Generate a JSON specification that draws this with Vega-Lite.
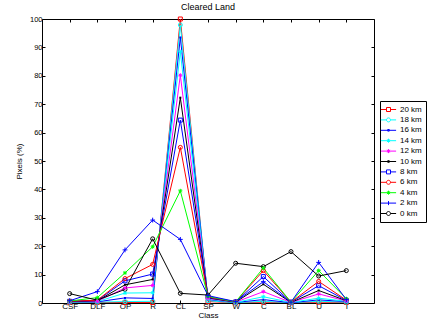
{
  "$schema": "https://vega.github.io/schema/vega-lite/v6.json",
  "autosize": {"type": "none"},
  "width": 332,
  "height": 284,
  "padding": {"left": 42, "top": 19, "right": 57, "bottom": 22},
  "background": "white",
  "config": {
    "font": "Liberation Sans",
    "view": {"stroke": null},
    "axis": {"domainColor": "black", "tickColor": "black", "labelColor": "black", "titleColor": "black", "grid": false, "labelFont": "Liberation Sans", "titleFont": "Liberation Sans", "titleFontWeight": "normal"},
    "title": {"font": "Liberation Sans", "fontWeight": "normal", "fontSize": 9, "color": "black"}
  },
  "title": {"text": "Cleared Land", "offset": 3},
  "params": [
    {"name": "sq", "value": "M-1.9,0H-0.5M0.5,0H1.9M-0.5,-0.5H0.5V0.5H-0.5Z"},
    {"name": "ci", "value": "M-1.9,0H-0.5M0.5,0H1.9M0.5,0A0.5,0.5,0,1,1,-0.5,0A0.5,0.5,0,1,1,0.5,0"},
    {"name": "dt", "value": "M-1.9,0H1.9M-0.2,-0.2H0.2V0.2H-0.2Z"},
    {"name": "pl", "value": "M-1.9,0H1.9M0,-0.5V0.5"},
    {"name": "as", "value": "M-1.9,0H1.9M0,-0.5V0.5M-0.4,-0.3L0.4,0.3M-0.4,0.3L0.4,-0.3"}
  ],
  "data": {"values": [
    {"s":"20 km","c":"CSF","v":0.2},{"s":"20 km","c":"DLF","v":0.2},{"s":"20 km","c":"OP","v":0.2},{"s":"20 km","c":"R","v":0.2},{"s":"20 km","c":"CL","v":100},{"s":"20 km","c":"SP","v":0.5},{"s":"20 km","c":"W","v":0.1},{"s":"20 km","c":"C","v":0.3},{"s":"20 km","c":"BL","v":0.1},{"s":"20 km","c":"U","v":0.3},{"s":"20 km","c":"I","v":0.2},
    {"s":"18 km","c":"CSF","v":0.3},{"s":"18 km","c":"DLF","v":0.3},{"s":"18 km","c":"OP","v":0.5},{"s":"18 km","c":"R","v":0.6},{"s":"18 km","c":"CL","v":97.9},{"s":"18 km","c":"SP","v":0.8},{"s":"18 km","c":"W","v":0.1},{"s":"18 km","c":"C","v":0.6},{"s":"18 km","c":"BL","v":0.1},{"s":"18 km","c":"U","v":0.6},{"s":"18 km","c":"I","v":0.3},
    {"s":"16 km","c":"CSF","v":0.4},{"s":"16 km","c":"DLF","v":0.4},{"s":"16 km","c":"OP","v":1.8},{"s":"16 km","c":"R","v":1.6},{"s":"16 km","c":"CL","v":93.5},{"s":"16 km","c":"SP","v":1.2},{"s":"16 km","c":"W","v":0.2},{"s":"16 km","c":"C","v":1.2},{"s":"16 km","c":"BL","v":0.1},{"s":"16 km","c":"U","v":1.1},{"s":"16 km","c":"I","v":0.5},
    {"s":"14 km","c":"CSF","v":0.4},{"s":"14 km","c":"DLF","v":0.5},{"s":"14 km","c":"OP","v":3.5},{"s":"14 km","c":"R","v":3.6},{"s":"14 km","c":"CL","v":88.5},{"s":"14 km","c":"SP","v":1.4},{"s":"14 km","c":"W","v":0.2},{"s":"14 km","c":"C","v":2.2},{"s":"14 km","c":"BL","v":0.2},{"s":"14 km","c":"U","v":1.7},{"s":"14 km","c":"I","v":0.6},
    {"s":"12 km","c":"CSF","v":0.5},{"s":"12 km","c":"DLF","v":0.6},{"s":"12 km","c":"OP","v":5.3},{"s":"12 km","c":"R","v":6.2},{"s":"12 km","c":"CL","v":80.2},{"s":"12 km","c":"SP","v":1.6},{"s":"12 km","c":"W","v":0.3},{"s":"12 km","c":"C","v":4.0},{"s":"12 km","c":"BL","v":0.2},{"s":"12 km","c":"U","v":3.2},{"s":"12 km","c":"I","v":0.7},
    {"s":"10 km","c":"CSF","v":0.5},{"s":"10 km","c":"DLF","v":0.8},{"s":"10 km","c":"OP","v":6.4},{"s":"10 km","c":"R","v":8.3},{"s":"10 km","c":"CL","v":72.3},{"s":"10 km","c":"SP","v":1.8},{"s":"10 km","c":"W","v":0.3},{"s":"10 km","c":"C","v":6.6},{"s":"10 km","c":"BL","v":0.2},{"s":"10 km","c":"U","v":4.4},{"s":"10 km","c":"I","v":0.8},
    {"s":"8 km","c":"CSF","v":0.6},{"s":"8 km","c":"DLF","v":0.9},{"s":"8 km","c":"OP","v":7.8},{"s":"8 km","c":"R","v":10.2},{"s":"8 km","c":"CL","v":64.4},{"s":"8 km","c":"SP","v":2.0},{"s":"8 km","c":"W","v":0.4},{"s":"8 km","c":"C","v":9.3},{"s":"8 km","c":"BL","v":0.3},{"s":"8 km","c":"U","v":6.1},{"s":"8 km","c":"I","v":0.9},
    {"s":"6 km","c":"CSF","v":0.6},{"s":"6 km","c":"DLF","v":1.0},{"s":"6 km","c":"OP","v":8.6},{"s":"6 km","c":"R","v":13.6},{"s":"6 km","c":"CL","v":54.8},{"s":"6 km","c":"SP","v":2.1},{"s":"6 km","c":"W","v":0.4},{"s":"6 km","c":"C","v":11.4},{"s":"6 km","c":"BL","v":0.3},{"s":"6 km","c":"U","v":7.6},{"s":"6 km","c":"I","v":1.0},
    {"s":"4 km","c":"CSF","v":0.7},{"s":"4 km","c":"DLF","v":1.9},{"s":"4 km","c":"OP","v":10.6},{"s":"4 km","c":"R","v":19.8},{"s":"4 km","c":"CL","v":39.5},{"s":"4 km","c":"SP","v":2.3},{"s":"4 km","c":"W","v":0.4},{"s":"4 km","c":"C","v":12.3},{"s":"4 km","c":"BL","v":0.3},{"s":"4 km","c":"U","v":11.4},{"s":"4 km","c":"I","v":1.5},
    {"s":"2 km","c":"CSF","v":0.8},{"s":"2 km","c":"DLF","v":4.0},{"s":"2 km","c":"OP","v":18.7},{"s":"2 km","c":"R","v":29.2},{"s":"2 km","c":"CL","v":22.4},{"s":"2 km","c":"SP","v":2.6},{"s":"2 km","c":"W","v":0.5},{"s":"2 km","c":"C","v":7.5},{"s":"2 km","c":"BL","v":0.3},{"s":"2 km","c":"U","v":14.3},{"s":"2 km","c":"I","v":1.2},
    {"s":"0 km","c":"CSF","v":3.3},{"s":"0 km","c":"DLF","v":1.0},{"s":"0 km","c":"OP","v":4.8},{"s":"0 km","c":"R","v":22.6},{"s":"0 km","c":"CL","v":3.4},{"s":"0 km","c":"SP","v":2.8},{"s":"0 km","c":"W","v":14.0},{"s":"0 km","c":"C","v":12.8},{"s":"0 km","c":"BL","v":18.1},{"s":"0 km","c":"U","v":9.5},{"s":"0 km","c":"I","v":11.4}
  ]},
  "encoding": {
    "x": {"field": "c", "type": "nominal", "sort": ["CSF","DLF","OP","R","CL","SP","W","C","BL","U","I"], "axis": null},
    "y": {"field": "v", "type": "quantitative", "axis": null}
  },
  "resolve": {"axis": {"x": "independent", "y": "independent"}},
  "layer": [
    {
      "mark": {"type": "line", "strokeWidth": 1},
      "encoding": {
        "x": {"field": "c", "type": "nominal", "sort": ["CSF","DLF","OP","R","CL","SP","W","C","BL","U","I"],
              "scale": {"type": "point", "padding": 1},
              "axis": {"title": "Class", "labelAngle": 0, "labelFontSize": 8, "titleFontSize": 8, "tickSize": -3, "labelPadding": 2, "titlePadding": 1, "domainWidth": 1}},
        "y": {"field": "v", "type": "quantitative", "scale": {"domain": [0, 100], "nice": false},
              "axis": {"title": "Pixels (%)", "values": [0,10,20,30,40,50,60,70,80,90,100], "labelFontSize": 7.5, "titleFontSize": 8, "tickSize": -3, "labelPadding": 3, "titlePadding": 6, "domainWidth": 1}},
        "color": {"field": "s", "type": "nominal",
                  "scale": {"domain": ["20 km","18 km","16 km","14 km","12 km","10 km","8 km","6 km","4 km","2 km","0 km"],
                            "range": ["#ff0000","#00ffff","#0000ff","#00ffff","#ff00ff","#000000","#0000ff","#ff0000","#00ff00","#0000ff","#000000"]},
                  "legend": {"title": null, "orient": "none", "legendX": 338, "legendY": 82, "padding": 4,
                             "strokeColor": "black", "fillColor": "white", "labelFontSize": 8, "labelColor": "black",
                             "symbolSize": 64, "rowPadding": 1.4, "labelOffset": 7, "symbolStrokeWidth": 1,
                             "symbolFillColor": "transparent",
                             "encode": {"symbols": {"update": {
                               "fillOpacity": {"value": 0},
                               "shape": {"signal": "(datum.value == '20 km' || datum.value == '8 km') ? sq : (datum.value == '18 km' || datum.value == '6 km' || datum.value == '0 km') ? ci : (datum.value == '16 km' || datum.value == '10 km') ? dt : datum.value == '2 km' ? pl : as"}
                             }}}}}
      }
    },
    {
      "transform": [{"filter": {"field": "s", "oneOf": ["20 km", "8 km"]}}],
      "mark": {"type": "point", "shape": "square", "filled": false, "size": 16, "strokeWidth": 1, "opacity": 1},
      "encoding": {"color": {"field": "s", "type": "nominal", "legend": null}}
    },
    {
      "transform": [{"filter": {"field": "s", "oneOf": ["18 km", "6 km", "0 km"]}}],
      "mark": {"type": "point", "shape": "circle", "filled": false, "size": 16, "strokeWidth": 1, "opacity": 1},
      "encoding": {"color": {"field": "s", "type": "nominal", "legend": null}}
    },
    {
      "transform": [{"filter": {"field": "s", "oneOf": ["16 km", "10 km"]}}],
      "mark": {"type": "point", "shape": "square", "filled": true, "size": 4, "strokeWidth": 1, "opacity": 1},
      "encoding": {"color": {"field": "s", "type": "nominal", "legend": null}}
    },
    {
      "transform": [{"filter": {"field": "s", "oneOf": ["14 km", "12 km", "4 km"]}}],
      "mark": {"type": "point", "shape": "M-1,0H1M0,-1V1M-0.7,-0.7L0.7,0.7M-0.7,0.7L0.7,-0.7", "filled": false, "size": 16, "strokeWidth": 1, "opacity": 1},
      "encoding": {"color": {"field": "s", "type": "nominal", "legend": null}}
    },
    {
      "transform": [{"filter": {"field": "s", "equal": "2 km"}}],
      "mark": {"type": "point", "shape": "M-1.2,0H1.2M0,-1.2V1.2", "filled": false, "size": 16, "strokeWidth": 1, "opacity": 1},
      "encoding": {"color": {"field": "s", "type": "nominal", "legend": null}}
    },
    {
      "mark": {"type": "point", "opacity": 0},
      "encoding": {
        "x": {"field": "c", "type": "nominal", "sort": ["CSF","DLF","OP","R","CL","SP","W","C","BL","U","I"],
              "axis": {"orient": "top", "labels": false, "title": null, "tickSize": -3, "domainWidth": 1}},
        "y": {"field": "v", "type": "quantitative",
              "axis": {"orient": "right", "labels": false, "title": null, "values": [0,10,20,30,40,50,60,70,80,90,100], "tickSize": -3, "domainWidth": 1}}
      }
    }
  ]
}
